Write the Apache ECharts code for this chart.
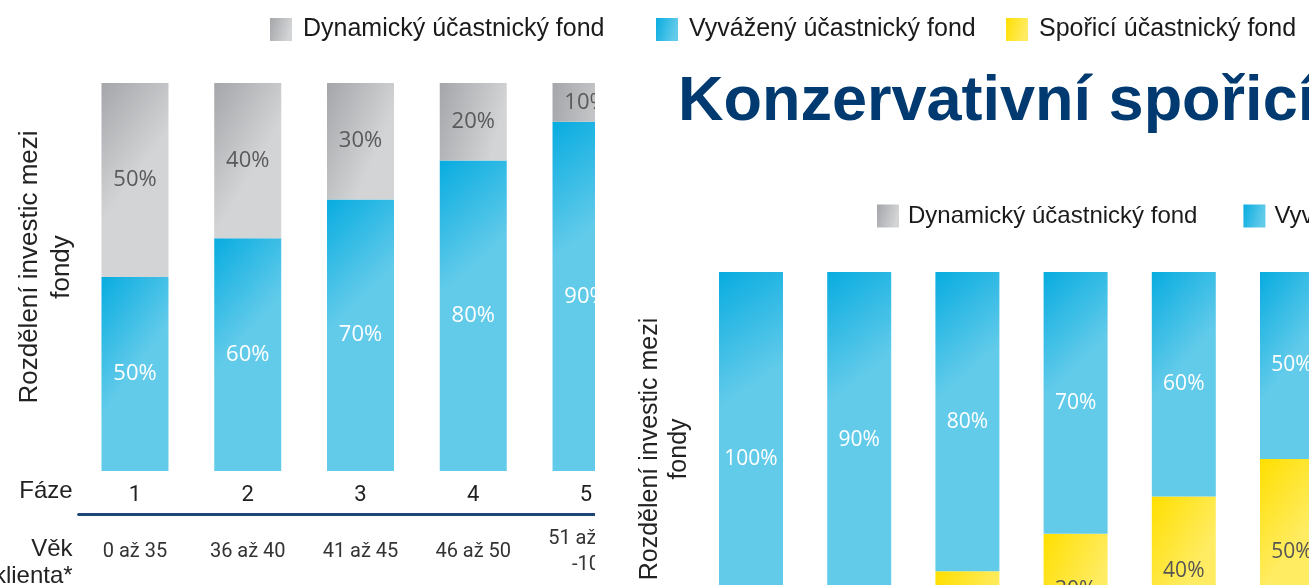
<html>

<head>
    <meta charset="utf-8" />
    <style>
        body { margin: 0; width: 1309px; height: 585px; overflow: hidden; background: #fff; position: relative; }
        #right { position: absolute; left: 0; top: 0; width: 1400px; height: 700px; }
        #leftWrap { position: absolute; left: 0; top: 0; width: 595px; height: 585px; overflow: hidden; }
        #left { width: 660px; height: 585px; }
    </style>
</head>

<body>
    <div id="right"></div>
    <div id="leftWrap">
        <div id="left"></div>
    </div>
    <script src="https://cdn.jsdelivr.net/npm/echarts@6/dist/echarts.min.js"></script>
    <script>
        // fondy
        var fondDyn = 'Dynamický účastnický fond';
        var fondVyv = 'Vyvážený účastnický fond';
        var fondSpo = 'Spořicí účastnický fond';

        // levy graf - faze a vek
        var fazeLeft = ['1', '2', '3', '4', '5'];
        var vekLeft = ['0 až 35', '36 až 40', '41 až 45', '46 až 50', '51 až 60\n-10'];
        var dynLeft = [50, 40, 30, 20, 10];
        var vyvLeft = [50, 60, 70, 80, 90];

        // pravy graf - konzervativni strategie
        var fazeRight = ['1', '2', '3', '4', '5', '6'];
        var dynRight = [0, 0, 0, 0, 0, 0];
        var vyvRight = [100, 90, 80, 70, 60, 50];
        var spoRight = [0, 10, 20, 30, 40, 50];

        function grad(c1, c2) {
            return new echarts.graphic.LinearGradient(0, 0, 1, 0.25, [
                { offset: 0, color: c1 },
                { offset: 1, color: c2 }
            ]);
        }
        var cGray = grad('#a4a6a9', '#d3d4d6');
        var cBlue = grad('#08ace0', '#63cbea');
        var cYellow = grad('#ffdf00', '#ffec62');

        function pct(p) {
            return p.value ? p.value + '%' : '';
        }
        function lbl(color, size) {
            return {
                show: true, position: 'inside', formatter: pct,
                color: color, fontSize: size, fontFamily: 'Open Sans'
            };
        }
        var legendText = { fontSize: 25, color: '#1a1a1a', fontFamily: 'Liberation Sans', padding: [0, 0, 0, 6] };

        var left = echarts.init(document.getElementById('left'));
        var leftOption = {
            animation: false,
            grid: { left: 78.6, right: 17.6, top: 83, bottom: 114, outerBoundsMode: 'none' },
            xAxis: [
                {
                    type: 'category',
                    data: fazeLeft,
                    axisLine: { show: false },
                    axisTick: { show: false },
                    axisLabel: { fontSize: 22, color: '#222', margin: 13, fontFamily: 'Roboto' },
                    name: 'Fáze',
                    nameLocation: 'start',
                    nameGap: 6,
                    nameTextStyle: { fontSize: 24, lineHeight: 25, color: '#222', fontFamily: 'Liberation Sans', verticalAlign: 'top', padding: [8, 0, 0, 0] }
                },
                {
                    type: 'category',
                    data: vekLeft,
                    position: 'bottom',
                    offset: 43,
                    axisLine: { lineStyle: { color: '#1d4677', width: 3 } },
                    axisTick: { show: false },
                    axisLabel: { fontSize: 20, lineHeight: 26, color: '#333', margin: 38, verticalAlign: 'middle', fontFamily: 'Roboto' },
                    name: 'Věk\nklienta*',
                    nameLocation: 'start',
                    nameGap: 6,
                    nameTextStyle: { fontSize: 24, lineHeight: 27, color: '#222', fontFamily: 'Liberation Sans', verticalAlign: 'top', padding: [22, 0, 0, 0] }
                }
            ],
            yAxis: {
                type: 'value', min: 0, max: 100,
                axisLine: { show: false }, axisTick: { show: false },
                axisLabel: { show: false }, splitLine: { show: false },
                name: 'Rozdělení investic mezi\nfondy',
                nameLocation: 'middle',
                nameRotate: 90,
                nameGap: 1,
                nameTextStyle: { fontSize: 26, lineHeight: 32, color: '#222', fontFamily: 'Liberation Sans', padding: [0, 0, 0, 20] }
            },
            series: [
                { name: fondVyv, type: 'bar', stack: 'a', barWidth: 67, data: vyvLeft, itemStyle: { color: cBlue }, label: lbl('#fff', 22) },
                { name: fondDyn, type: 'bar', stack: 'a', barWidth: 67, data: dynLeft, itemStyle: { color: cGray }, label: lbl('#5a5a5a', 22) }
            ]
        };
        left.setOption(leftOption);

        var right = echarts.init(document.getElementById('right'));
        var rightOption = {
            animation: false,
            title: {
                text: 'Konzervativní spořicí strategie',
                left: 678, top: 71, padding: 0,
                textStyle: { fontSize: 63, fontWeight: 'bold', color: '#003a70', fontFamily: 'Liberation Sans' }
            },
            legend: [
                { data: [fondDyn], left: 270, top: 17, padding: 0, icon: 'rect', itemWidth: 22, itemHeight: 23, textStyle: legendText, selectedMode: false },
                { data: [fondVyv], left: 656, top: 17, padding: 0, icon: 'rect', itemWidth: 22, itemHeight: 23, textStyle: legendText, selectedMode: false },
                { data: [fondSpo], left: 1006, top: 17, padding: 0, icon: 'rect', itemWidth: 22, itemHeight: 23, textStyle: legendText, selectedMode: false },
                {
                    data: [fondDyn, fondVyv, fondSpo], left: 877, top: 204, width: 1200, orient: 'horizontal',
                    padding: 0, itemGap: 46, icon: 'rect', itemWidth: 22, itemHeight: 23, selectedMode: false,
                    textStyle: { fontSize: 24, color: '#1a1a1a', fontFamily: 'Liberation Sans', padding: [0, 0, 0, 4] }
                }
            ],
            grid: { left: 696.9, right: 53.9, top: 272, bottom: 54, outerBoundsMode: 'none' },
            xAxis: {
                type: 'category', data: fazeRight,
                axisLine: { show: false }, axisTick: { show: false }, axisLabel: { show: false }
            },
            yAxis: {
                type: 'value', min: 0, max: 100,
                axisLine: { show: false }, axisTick: { show: false },
                axisLabel: { show: false }, splitLine: { show: false },
                name: 'Rozdělení investic mezi\nfondy',
                nameLocation: 'middle',
                nameRotate: 90,
                nameGap: 3,
                nameTextStyle: { fontSize: 25, lineHeight: 29, color: '#222', fontFamily: 'Liberation Sans', padding: [0, 0, 0, 20] }
            },
            series: [
                { name: fondSpo, type: 'bar', stack: 'b', barWidth: 64, data: spoRight, itemStyle: { color: cYellow }, label: lbl('#555', 21) },
                { name: fondVyv, type: 'bar', stack: 'b', barWidth: 64, data: vyvRight, itemStyle: { color: cBlue }, label: lbl('#fff', 21) },
                { name: fondDyn, type: 'bar', stack: 'b', barWidth: 64, data: dynRight, itemStyle: { color: cGray }, label: lbl('#5a5a5a', 21) }
            ]
        };
        right.setOption(rightOption);
    </script>
</body>

</html>
